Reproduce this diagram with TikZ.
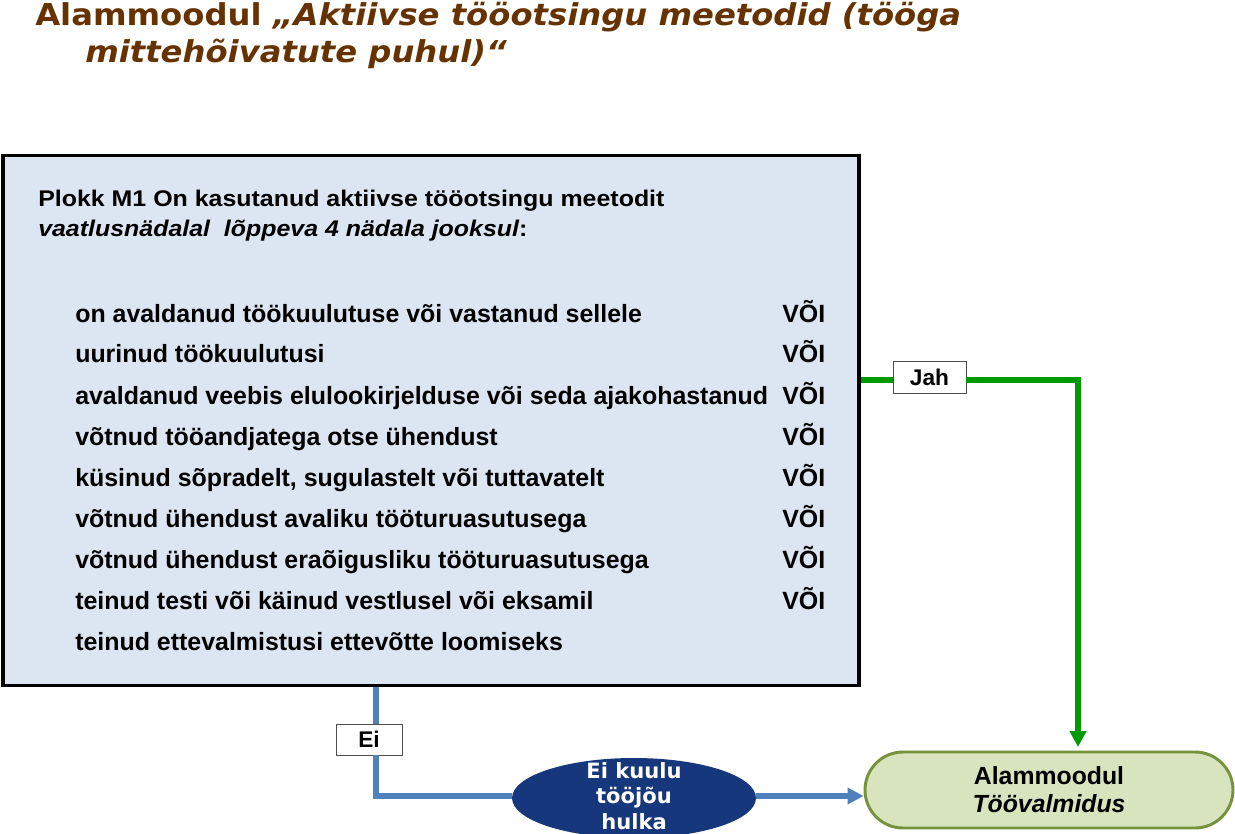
\documentclass[tikz,border=0pt]{standalone}
\usepackage{fontspec}
\setmainfont{Liberation Sans}
\newfontfamily\titlefont[FakeStretch=1.07]{DejaVu Sans}
\newfontfamily\headfont[FakeStretch=1.1]{Liberation Sans}
\newfontfamily\ovalfont{DejaVu Sans}
\usetikzlibrary{arrows.meta,positioning,shapes.geometric,shapes.misc}
\definecolor{titlebrown}{RGB}{102,51,0}
\definecolor{blockfill}{RGB}{220,230,242}
\definecolor{yesgreen}{RGB}{0,153,0}
\definecolor{noblue}{RGB}{79,129,189}
\definecolor{outnavy}{RGB}{23,55,125}
\definecolor{termfill}{RGB}{215,228,189}
\definecolor{termdraw}{RGB}{118,146,60}
\tikzset{
  titleline/.style={anchor=base west,inner sep=0pt,font=\titlefont\bfseries\fontsize{22.6}{28}\selectfont,text=titlebrown},
  headtext/.style={anchor=base west,inner sep=0pt,font=\headfont\bfseries\fontsize{17}{20}\selectfont},
  blocktext/.style={anchor=base west,inner sep=0pt,font=\bfseries\fontsize{18.7}{22}\selectfont},
  answer/.style={draw=black!70,fill=white,minimum width=49.5pt,minimum height=23pt,inner sep=0pt,
    font=\bfseries\fontsize{17}{18}\selectfont},
  yesarc/.style={-{Triangle[length=12pt,width=12pt]},line width=3.8pt,yesgreen},
  noarc/.style={-{Triangle[length=12pt,width=12pt]},line width=3.8pt,noblue},
  outside/.style={ellipse,fill=outnavy,minimum width=183pt,minimum height=60pt,inner sep=0pt},
  outtext/.style={inner sep=0pt,text=white,align=center,font=\ovalfont\bfseries\fontsize{15.8}{19}\selectfont},
  submodule/.style={rounded rectangle,draw=termdraw,line width=2.2pt,fill=termfill,
    minimum width=276pt,minimum height=57pt,inner sep=0pt,align=center,font=\bfseries\fontsize{18.6}{21}\selectfont}
}

\begin{document}
\begin{tikzpicture}[x=0.75pt,y=-0.75pt]
  \useasboundingbox (0,0) rectangle (1235,834);
  % title
  \node[titleline] (t1) at (35,25.5) {Alammoodul \itshape „Aktiivse tööotsingu meetodid (tööga};
  \node[titleline] (t2) at (85,62.5) {\itshape mittehõivatute puhul)“};
  % block M1
  \node[draw=black,line width=2.4pt,fill=blockfill,minimum width=642pt,minimum height=398pt,
    inner sep=0pt] (m1) at (431,420.5) {};
  \node[headtext] (h1) at (38,207) {Plokk M1 On kasutanud aktiivse tööotsingu meetodit};
  \node[headtext] (h2) at (38,237) {\itshape vaatlusnädalal\ \ lõppeva 4 nädala jooksul\upshape:};
  \foreach \txt [count=\i] in {on avaldanud töökuulutuse või vastanud sellele,
      uurinud töökuulutusi,
      avaldanud veebis elulookirjelduse või seda ajakohastanud,
      võtnud tööandjatega otse ühendust,
      küsinud sõpradelt{,} sugulastelt või tuttavatelt,
      võtnud ühendust avaliku tööturuasutusega,
      võtnud ühendust eraõigusliku tööturuasutusega,
      teinud testi või käinud vestlusel või eksamil,
      teinud ettevalmistusi ettevõtte loomiseks}
    \node[blocktext] (w\i) at (75,281+41*\i) {\txt};
  \foreach \i in {1,...,8}
    \node[blocktext] (v\i) at (782,281+41*\i) {VÕI};
  % answers and outcomes
  \node[answer,minimum width=55pt,minimum height=24pt] (jah) at (929.5,377) {Jah};
  \node[answer] (ei) at (369,739.5) {Ei};
  \node[outside] (out) at (634,798) {};
  \node[outtext] (outlbl) at ([yshift=1.5pt]out.center) {Ei kuulu\\tööjõu\\hulka};
  \node[submodule] (tv) at (1049,790) {Alammoodul\\\itshape Töövalmidus};
  \coordinate (jahturn) at (1078,380);
  \coordinate (eiturn) at (376,796);
  \coordinate (jahend) at (1078,747);
  \draw[yesarc,-] (m1.east |- jahturn) -- (jah.west |- jahturn);
  \draw[yesarc] (jah.east |- jahturn) -- (jahturn) -- (jahend);
  \draw[noarc,-] (m1.south -| eiturn) -- (ei.north -| eiturn) (ei.south -| eiturn) -- (eiturn) -- (out.west |- eiturn);
  \draw[noarc] (out.east |- eiturn) -- (eiturn -| tv.west);
\end{tikzpicture}
\end{document}
